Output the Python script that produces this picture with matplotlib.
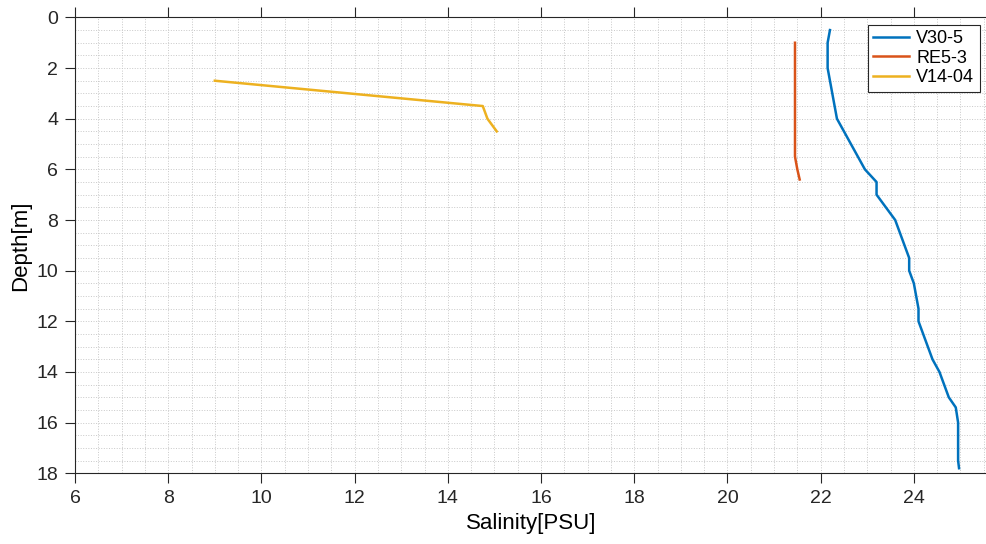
import matplotlib
matplotlib.use("Agg")
import matplotlib.pyplot as plt
from matplotlib.ticker import MultipleLocator

# ── Data ──
v30_sal = [22.2, 22.15, 22.15, 22.2, 22.25, 22.3, 22.35, 22.5, 22.65, 22.8, 22.95, 23.2, 23.2,
           23.4, 23.6, 23.7, 23.8, 23.9, 23.9, 24.0, 24.05, 24.1, 24.1, 24.2, 24.3, 24.4,
           24.55, 24.65, 24.75, 24.9, 24.95, 24.95, 24.95, 24.97]
v30_dep = [0.5, 1, 2, 2.5, 3, 3.5, 4, 4.5, 5, 5.5, 6, 6.5, 7, 7.5, 8, 8.5, 9, 9.5, 10, 10.5,
           11, 11.5, 12, 12.5, 13, 13.5, 14, 14.5, 15, 15.4, 16, 17, 17.5, 17.8]
re5_sal = [21.45, 21.45, 21.45, 21.45, 21.5, 21.55]
re5_dep = [1, 3, 5, 5.5, 6, 6.4]
v14_sal = [9.0, 14.75, 14.85, 15.05]
v14_dep = [2.5, 3.5, 4.0, 4.5]

plt.rcParams["font.family"] = ["Liberation Sans", "DejaVu Sans"]
fig = plt.figure(figsize=(9.87, 5.44), dpi=100)
ax = fig.add_axes([0.076, 0.13, 0.924, 0.838])
ax.plot(v30_sal, v30_dep, color="#0072BD", lw=1.8, label="V30-5")
ax.plot(re5_sal, re5_dep, color="#D95319", lw=1.8, label="RE5-3")
ax.plot(v14_sal, v14_dep, color="#EDB120", lw=1.8, label="V14-04")

ax.set_xlim(6, 25.57)
ax.set_ylim(18, 0)
ax.xaxis.set_major_locator(MultipleLocator(2))
ax.yaxis.set_major_locator(MultipleLocator(2))
ax.xaxis.set_minor_locator(MultipleLocator(0.5))
ax.yaxis.set_minor_locator(MultipleLocator(0.5))
ax.grid(which="major", color="#c8c8c8", lw=0.7, ls=":")
ax.grid(which="minor", color="#c8c8c8", lw=0.7, ls=":")
ax.tick_params(which="major", direction="out", length=7, labelsize=14, colors="#262626",
               top=True, right=False, pad=5)
ax.tick_params(which="minor", length=0)
for s in ax.spines.values():
    s.set_color("#262626")
ax.spines["right"].set_visible(False)
ax.set_xlabel("Salinity[PSU]", fontsize=16, labelpad=4)
ax.set_ylabel("Depth[m]", fontsize=16, labelpad=4)
leg = ax.legend(loc="upper right", fontsize=13, fancybox=False, framealpha=1, edgecolor="#262626",
                handlelength=2.0, borderaxespad=0.4, labelspacing=0.15, borderpad=0.3,
                handletextpad=0.4)
leg.get_frame().set_linewidth(0.8)
fig.savefig("out.png", dpi=100)
